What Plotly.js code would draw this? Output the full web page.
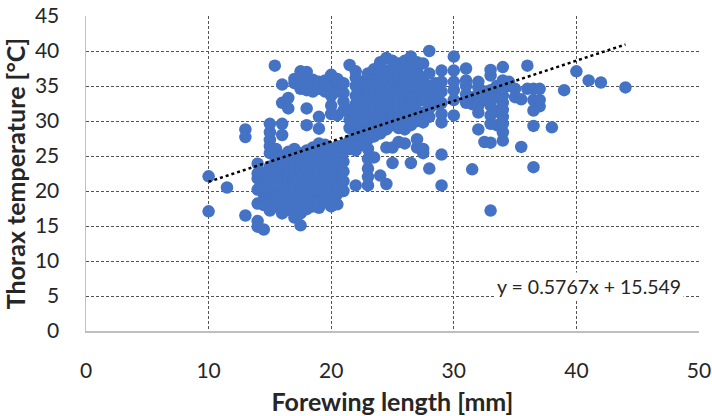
<!DOCTYPE html>
<html>
<head>
<meta charset="utf-8">
<script src="https://cdn.plot.ly/plotly-3.0.1.min.js"></script>
<style>html,body{margin:0;padding:0;background:#fff;}#chart{width:712px;height:416px;}</style>
</head>
<body>
<div id="chart"></div>
<script>
// Scatter data: forewing length (mm) columns with thorax temperatures (°C)
const col10 = [22.1, 17.1];
const col11_5 = [20.5];
const col13 = [28.8, 27.7, 16.5];
const col14 = [15.7, 14.9, 18.2, 20.2, 21.8, 23.9, 22.5];
const col14_5 = [14.5, 18.0, 19.5, 21.2, 22.6, 20.5];
const col15 = [17.2, 18.8, 20.0, 21.5, 22.6, 23.5, 25.4, 26.4, 27.3, 28.4, 29.6];
const col15_4 = [37.9];
const col15_5 = [17.8, 19.2, 20.8, 22.2, 23.0, 24.6, 26.0];
const col16 = [16.8, 18.0, 19.6, 21.0, 22.4, 23.6, 25.0, 28.0, 29.6, 32.6, 35.2];
const col16_5 = [17.3, 18.6, 20.2, 21.6, 22.8, 24.2, 25.6, 31.8, 33.3];
const col17 = [16.2, 17.5, 19.0, 20.6, 22.0, 23.4, 24.8, 26.0, 35.4, 36.0];
const col17_5 = [15.1, 16.8, 18.2, 19.8, 21.2, 22.6, 24.0, 25.4, 34.6, 35.5, 36.4, 37.1];
const col18 = [17.4, 18.8, 20.4, 21.8, 23.2, 24.6, 25.8, 29.4, 31.8, 34.4, 35.2, 36.0, 37.0];
const col18_5 = [17.8, 19.2, 20.8, 22.2, 23.6, 25.0, 26.2, 35.0, 35.9, 34.2];
const col19 = [17.6, 18.6, 20.0, 21.4, 22.8, 24.2, 25.5, 26.8, 28.9, 30.6, 34.6, 35.6];
const col19_5 = [18.4, 19.8, 21.2, 22.6, 24.0, 25.4, 26.6, 35.2, 35.8, 34.2];
const col20 = [17.8, 19.2, 20.6, 22.0, 23.4, 24.8, 26.0, 31.0, 32.2, 33.6, 35.0, 36.2, 36.6];
const col20_5 = [18.1, 19.6, 21.0, 22.4, 23.8, 25.2, 26.4, 30.8, 34.2, 35.6, 36.0];
const col21 = [20.0, 21.4, 22.8, 24.2, 25.6, 26.6, 31.5, 32.8, 34.0, 35.4];
const col21_5 = [38.0, 29.0, 30.2, 31.6, 26.0, 27.2];
const col22 = [20.8, 25.8, 27.0, 28.2, 29.6, 31.0, 32.4, 33.6, 35.0, 36.2, 37.1];
const col22_5 = [26.6, 27.8, 29.0, 30.4, 31.8, 33.0, 34.4, 35.6];
const col23 = [20.8, 22.0, 23.2, 24.6, 26.0, 27.4, 28.6, 30.0, 31.4, 32.8, 34.2, 35.6, 36.8];
const col23_5 = [24.8, 27.8, 29.2, 30.6, 32.0, 33.4, 34.8, 36.2, 37.4];
const col24 = [22.2, 28.2, 29.6, 31.0, 32.4, 33.8, 35.2, 36.6, 37.8, 38.4];
const col24_5 = [21.0, 26.2, 28.8, 30.2, 31.6, 33.0, 34.4, 35.8, 37.2, 39.0];
const col25 = [24.0, 26.2, 29.4, 30.8, 32.2, 33.6, 35.0, 36.4, 37.6, 38.6];
const col25_5 = [27.0, 29.0, 30.4, 31.8, 33.2, 34.6, 36.0, 37.4, 38.2];
const col26 = [26.8, 28.8, 30.2, 31.6, 33.0, 34.4, 35.8, 37.2, 38.6];
const col26_5 = [24.0, 29.4, 30.8, 32.2, 33.6, 35.0, 36.4, 37.8, 39.2];
const col27 = [26.2, 27.4, 30.0, 31.4, 32.8, 34.2, 35.6, 37.0, 38.4];
const col27_5 = [25.4, 26.0, 29.8, 31.2, 33.0, 34.6, 36.2, 38.2];
const col28 = [23.2, 30.6, 31.8, 33.4, 35.0, 36.8, 40.0];
const col28_5 = [32.4, 34.0, 35.4];
const col29 = [20.8, 25.2, 29.8, 31.0, 32.6, 34.2, 35.6, 37.2];
const col30 = [30.8, 33.0, 34.4, 35.6, 37.2, 39.2];
const col31 = [32.6, 33.8, 35.0, 35.8, 37.5];
const col31_5 = [23.1, 32.4, 33.4];
const col32 = [28.8, 31.2, 32.2, 33.6, 34.8, 35.6];
const col32_5 = [27.0, 33.0, 34.2];
const col33 = [17.2, 26.9, 29.6, 30.8, 32.2, 33.2, 34.4, 36.5, 37.3];
const col33_5 = [29.4, 31.4, 33.4, 35.0];
const col34 = [27.2, 28.4, 29.6, 30.6, 31.6, 32.6, 33.6, 34.6, 35.8, 37.7];
const col34_5 = [35.6, 35.0];
const col35 = [33.4, 34.6];
const col35_5 = [26.3, 33.1];
const col36 = [34.6, 37.9];
const col36_5 = [23.4, 29.3, 31.5, 33.0, 34.6];
const col37 = [32.1, 33.0, 34.6];
const col38 = [29.1];
const col39 = [34.4];
const col40 = [37.1];
const col41 = [35.8];
const col42 = [35.5];
const col44 = [34.8];

const lengths = [10, 11.5, 13, 14, 14.5, 15, 15.4, 15.5, 16, 16.5, 17, 17.5, 18, 18.5, 19, 19.5, 20, 20.5, 21, 21.5, 22, 22.5, 23, 23.5, 24, 24.5, 25, 25.5, 26, 26.5, 27, 27.5, 28, 28.5, 29, 30, 31, 31.5, 32, 32.5, 33, 33.5, 34, 34.5, 35, 35.5, 36, 36.5, 37, 38, 39, 40, 41, 42, 44];
const temps = [col10, col11_5, col13, col14, col14_5, col15, col15_4, col15_5, col16, col16_5, col17, col17_5, col18, col18_5, col19, col19_5, col20, col20_5, col21, col21_5, col22, col22_5, col23, col23_5, col24, col24_5, col25, col25_5, col26, col26_5, col27, col27_5, col28, col28_5, col29, col30, col31, col31_5, col32, col32_5, col33, col33_5, col34, col34_5, col35, col35_5, col36, col36_5, col37, col38, col39, col40, col41, col42, col44];

// Trend line (linear fit shown in the chart)
const trendSlope = 0.5767;
const trendIntercept = 15.549;
const trendX = [10, 44];
const trendLabel = "y = 0.5767x + 15.549";

const xTickVals = [0, 10, 20, 30, 40, 50];
const yTickVals = [0, 5, 10, 15, 20, 25, 30, 35, 40, 45];

const xs = [], ys = [];
lengths.forEach((L, i) => temps[i].forEach(t => { xs.push(L); ys.push(t); }));

const FONT = "Lato, 'Open Sans', sans-serif";

const data = [
  {
    x: xs, y: ys, type: 'scatter', mode: 'markers',
    marker: {color: '#4472C4', size: 12.5, line: {width: 0}},
    hoverinfo: 'x+y', showlegend: false
  },
  {
    x: trendX, y: trendX.map(v => trendSlope * v + trendIntercept),
    type: 'scatter', mode: 'lines',
    line: {color: '#000000', width: 2.5, dash: 'dot'},
    showlegend: false
  }
];

const layout = {
  width: 712, height: 416,
  margin: {l: 86, r: 13, t: 16, b: 85},
  paper_bgcolor: '#ffffff', plot_bgcolor: '#ffffff',
  font: {family: FONT, color: '#404040'},
  showlegend: false,
  xaxis: {
    range: [0, 50], tickvals: xTickVals, ticktext: xTickVals.map(String),
    showgrid: true, gridcolor: '#555555', griddash: '3px,2px', gridwidth: 1,
    zeroline: false, showline: true, linecolor: '#bfbfbf', linewidth: 1.5,
    ticks: '', ticklabelstandoff: 20,
    tickfont: {size: 21, family: FONT, color: '#262626'},
    title: {text: 'Forewing length [mm]', font: {size: 25, family: FONT, color: '#262626', weight: 'bold'}, standoff: 14},
    fixedrange: true
  },
  yaxis: {
    range: [0, 45], tickvals: yTickVals, ticktext: yTickVals.map(String),
    showgrid: true, gridcolor: '#555555', griddash: '3px,2px', gridwidth: 1,
    zeroline: false, showline: true, linecolor: '#bfbfbf', linewidth: 1.5,
    ticks: '', ticklabelstandoff: 21,
    tickfont: {size: 21, family: FONT, color: '#262626'},
    title: {text: 'Thorax temperature [°C]', font: {size: 25, family: FONT, color: '#262626', weight: 'bold'}, standoff: 8},
    fixedrange: true
  },
  annotations: [{
    x: 41.0, y: 6.3, xref: 'x', yref: 'y', text: trendLabel, showarrow: false,
    bgcolor: '#ffffff', font: {size: 19.5, family: FONT, color: '#262626'},
    xanchor: 'center', yanchor: 'middle', borderpad: 2
  }]
};

Plotly.newPlot('chart', data, layout, {displayModeBar: false, staticPlot: true});
</script>
</body>
</html>
